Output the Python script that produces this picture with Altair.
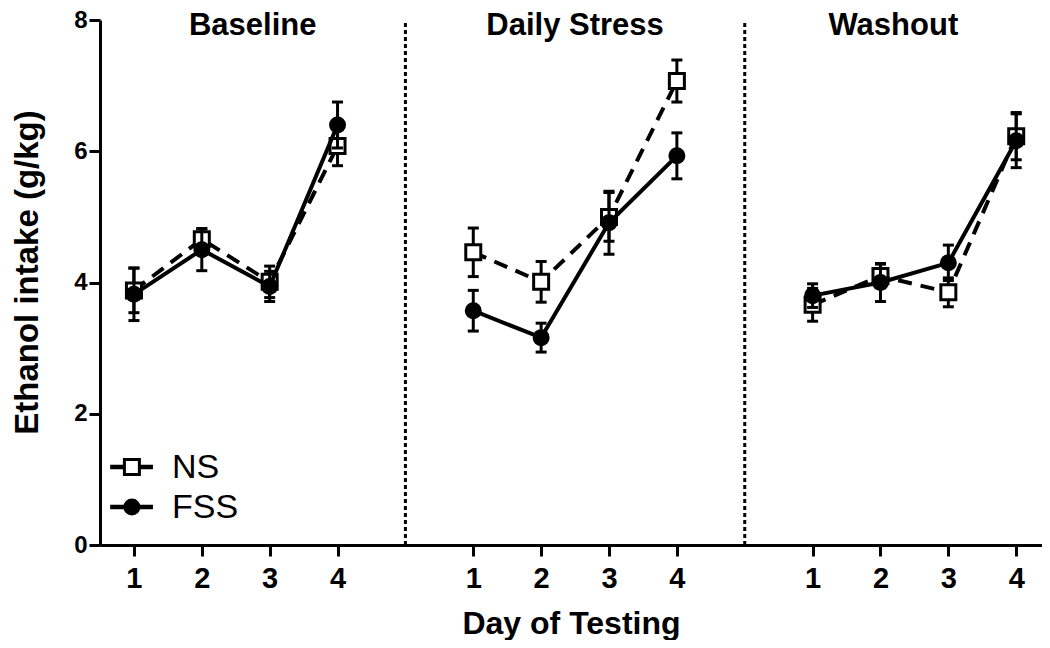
import altair as alt
import pandas as pd

FONT = "Liberation Sans"

# ---- data ----
phases = ["Baseline", "Daily Stress", "Washout"]
day_labels = ["1", "2", "3", "4"]
series_names = ["NS", "FSS"]

ns_mean = [3.88, 4.66, 4.01, 6.08, 4.46, 4.01, 5.00, 7.07, 3.66, 4.10, 3.85, 6.23]
ns_sem = [0.34, 0.16, 0.24, 0.30, 0.37, 0.31, 0.37, 0.32, 0.25, 0.18, 0.22, 0.36]
fss_mean = [3.82, 4.50, 3.94, 6.40, 3.57, 3.16, 4.91, 5.93, 3.80, 4.00, 4.30, 6.16]
fss_sem = [0.40, 0.32, 0.23, 0.35, 0.31, 0.22, 0.48, 0.35, 0.18, 0.29, 0.27, 0.41]

y_ticks = [0, 2, 4, 6, 8]

# ---- build tables ----
GAP = 5  # each phase occupies 5 x-units (4 days + gap)
rows = []
for name, means, sems in [("NS", ns_mean, ns_sem), ("FSS", fss_mean, fss_sem)]:
    for pi, ph in enumerate(phases):
        for di, d in enumerate(day_labels):
            k = pi * len(day_labels) + di
            rows.append(dict(series=name, phase=ph, x=pi * GAP + int(d),
                             y=means[k], lo=means[k] - sems[k], hi=means[k] + sems[k]))
df = pd.DataFrame(rows)

X_MIN, X_MAX = 0.5, 14.38
Y_MIN, Y_MAX = y_ticks[0], y_ticks[-1]
bounds = [X_MIN] + [GAP * (i + 1) for i in range(len(phases) - 1)] + [X_MAX]

sep_df = pd.DataFrame({"x": bounds[1:-1], "y": [Y_MIN] * 2, "y2": [Y_MAX] * 2})
title_df = pd.DataFrame({"x": [(bounds[i] + bounds[i + 1]) / 2 for i in range(len(phases))],
                         "y": [7.77] * len(phases), "label": phases})

leg_y = [1.19, 0.58]
leg_df = pd.DataFrame({"series": series_names, "x": [0.65] * 2, "x2": [1.28] * 2,
                       "xm": [0.97] * 2, "xt": [1.56] * 2, "y": leg_y})

tick_vals = [pi * GAP + int(d) for pi in range(len(phases)) for d in day_labels]

xscale = alt.Scale(domain=[X_MIN, X_MAX], nice=False, zero=False)
yscale = alt.Scale(domain=[Y_MIN, Y_MAX], nice=False, zero=False)

x_axis = alt.Axis(values=tick_vals, labelExpr="(datum.value - 1) % 5 + 1",
                  title="Day of Testing", labelFontSize=29, labelPadding=8,
                  titleFontSize=32, titleY=88, titleBaseline="alphabetic",
                  labelFlush=False)
y_axis = alt.Axis(values=y_ticks, format="d", title="Ethanol intake (g/kg)",
                  labelFontSize=24, labelPadding=2, titleFontSize=33,
                  titleX=-63, titleY=252, titleAlign="center",
                  titleBaseline="alphabetic", titleAngle=270)


def X(field="x"):
    return alt.X(f"{field}:Q", scale=xscale, axis=x_axis)


def Y(field="y"):
    return alt.Y(f"{field}:Q", scale=yscale, axis=y_axis)


base = alt.Chart(df)
ns = base.transform_filter(alt.datum.series == "NS")
fss = base.transform_filter(alt.datum.series == "FSS")

seps = alt.Chart(sep_df).mark_rule(color="black", strokeWidth=3, strokeDash=[4, 3]).encode(
    x=X(), y=Y(), y2="y2:Q")

ns_err = ns.mark_errorbar(ticks=True, size=11, thickness=3, color="black", opacity=1).encode(
    x=X(), y=Y("lo"), y2="hi:Q")
ns_line = ns.mark_line(color="black", strokeWidth=4, strokeDash=[14, 9]).encode(
    x=X(), y=Y(), detail="phase:N")
ns_pts = ns.mark_square(size=225, fill="white", stroke="black", strokeWidth=3, opacity=1).encode(
    x=X(), y=Y())

fss_err = fss.mark_errorbar(ticks=True, size=11, thickness=3, color="black", opacity=1).encode(
    x=X(), y=Y("lo"), y2="hi:Q")
fss_line = fss.mark_line(color="black", strokeWidth=4).encode(
    x=X(), y=Y(), detail="phase:N")
fss_pts = fss.mark_circle(size=289, color="black", opacity=1).encode(x=X(), y=Y())

titles = alt.Chart(title_df).mark_text(font=FONT, fontSize=31, fontWeight="bold",
                                       baseline="alphabetic", align="center", color="black").encode(
    x=X(), y=Y(), text="label:N")

leg = alt.Chart(leg_df)
leg_lines = leg.mark_rule(color="black", strokeWidth=4.5).encode(x=X(), x2="x2:Q", y=Y())
leg_sq = leg.transform_filter(alt.datum.series == "NS").mark_square(
    size=225, fill="white", stroke="black", strokeWidth=3, opacity=1).encode(x=X("xm"), y=Y())
leg_ci = leg.transform_filter(alt.datum.series == "FSS").mark_circle(
    size=289, color="black", opacity=1).encode(x=X("xm"), y=Y())
leg_txt = leg.mark_text(font=FONT, fontSize=34, align="left", baseline="middle", color="black",
                        dy=1).encode(x=X("xt"), y=Y(), text="series:N")

chart = alt.layer(
    seps, ns_err, ns_line, ns_pts, fss_err, fss_line, fss_pts, titles,
    leg_lines, leg_sq, leg_ci, leg_txt
).properties(
    width=942, height=525,
    autosize=alt.AutoSizeParams(type="none"),
    padding={"left": 92, "top": 12, "right": 0, "bottom": 95},
).configure_view(strokeWidth=0).configure_axis(
    domainColor="black", domainWidth=3, tickColor="black", tickWidth=3, tickSize=11,
    grid=False, labelFont=FONT, labelFontWeight="bold", labelColor="black",
    titleFont=FONT, titleFontWeight="bold", titleColor="black",
)

chart.save("out.html", embed_options={"renderer": "svg", "actions": False})
